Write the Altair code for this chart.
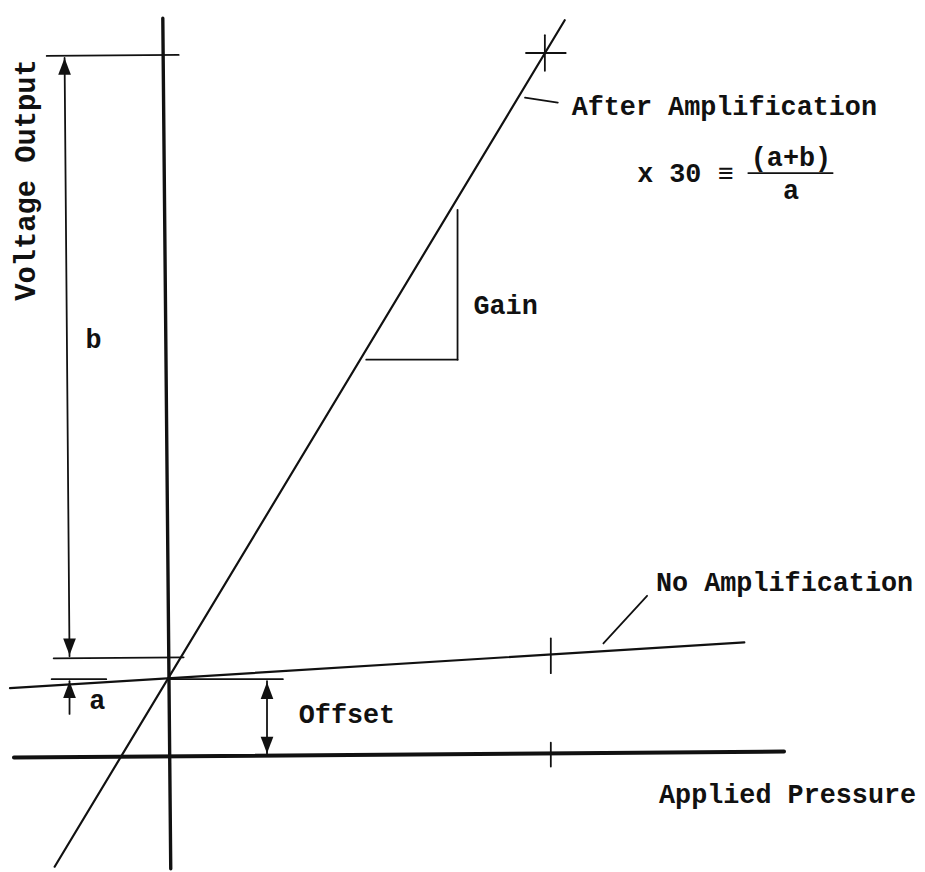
import altair as alt
import pandas as pd

# ---- diagram geometry (reference-image units: x to the right, y downward) ----
seg_name = ["v_axis", "p_axis", "after_amp", "no_amp",
            "b_top", "b_bottom", "b_arrow", "a_line", "a_arrow",
            "offset_top", "offset_arrow",
            "tick_noamp", "tick_p", "cross_h", "cross_v",
            "lead_after", "lead_noamp", "gain_v", "gain_h", "frac"]
seg_x1 = [162, 12, 53, 8, 45, 52, 63, 50, 68, 168, 267, 553, 553, 528, 547, 527, 606, 459, 367, 752]
seg_y1 = [15, 760, 870, 690, 53, 660, 55, 681, 683, 681, 683, 640, 745, 50, 32, 95, 645, 208, 359, 171]
seg_x2 = [170, 788, 567, 748, 178, 183, 68, 105, 68, 283, 267, 553, 553, 568, 547, 560, 650, 459, 459, 837]
seg_y2 = [872, 754, 17, 644, 52, 659, 658, 681, 716, 681, 757, 675, 769, 50, 68, 100, 597, 359, 359, 171]
seg_kind = ["heavy", "heavier", "main", "main", "thin", "thin", "thin", "thin", "thin",
            "thin", "thin", "thin", "thin", "thin", "thin", "thin", "thin", "thin", "thin", "thin"]

arrow_x = [63, 68, 68, 267, 267]
arrow_y = [55, 657, 683, 684, 756]
arrow_dir = ["up", "down", "up", "up", "down"]

labels = ["After Amplification", "x 30 \u2261", "(a+b)", "a", "Gain", "b",
          "No Amplification", "a", "Offset", "Applied Pressure", "Voltage Output"]
label_x = [574, 640, 795, 795, 475, 84, 659, 88, 299, 662, 33]
label_y = [112, 180, 164, 197, 313, 347, 592, 711, 725, 806, 178]
label_align = ["left", "left", "center", "center", "left", "left",
               "left", "left", "left", "left", "center"]
label_angle = [0, 0, 0, 0, 0, 0, 0, 0, 0, 0, 270]

WIDTH = {"heavier": 4.0, "heavy": 3.4, "main": 2.2, "thin": 1.8}
INK = "#111111"
FONT = "Liberation Mono"

segs = pd.DataFrame({"name": seg_name, "x1": seg_x1, "y1": seg_y1,
                     "x2": seg_x2, "y2": seg_y2, "kind": seg_kind})
segs["w"] = segs["kind"].map(WIDTH)
arrows = pd.DataFrame({"x": arrow_x, "y": arrow_y, "dir": arrow_dir})
texts = pd.DataFrame({"t": labels, "x": label_x, "y": label_y,
                      "align": label_align, "angle": label_angle})

xs = alt.Scale(domain=[8, 917], nice=False, zero=False)
ys = alt.Scale(domain=[8, 864], nice=False, zero=False, reverse=True)

lines = alt.Chart(segs).mark_rule(color=INK, strokeCap="round").encode(
    x=alt.X("x1:Q", scale=xs, axis=None),
    y=alt.Y("y1:Q", scale=ys, axis=None),
    x2="x2:Q", y2="y2:Q",
    strokeWidth=alt.StrokeWidth("w:Q", scale=None),
)

UP = "M0,-1L0.75,1L-0.75,1Z"
DOWN = "M0,1L0.75,-1L-0.75,-1Z"
up = alt.Chart(arrows).transform_filter("datum.dir == 'up'").mark_point(
    shape=UP, filled=True, color=INK, opacity=1, size=289, yOffset=8.5
).encode(x=alt.X("x:Q", scale=xs, axis=None), y=alt.Y("y:Q", scale=ys, axis=None))
down = alt.Chart(arrows).transform_filter("datum.dir == 'down'").mark_point(
    shape=DOWN, filled=True, color=INK, opacity=1, size=289, yOffset=-8.5
).encode(x=alt.X("x:Q", scale=xs, axis=None), y=alt.Y("y:Q", scale=ys, axis=None))

def text_layer(align, angle, size):
    return alt.Chart(texts).transform_filter(
        f"datum.align == '{align}' && datum.angle == {angle}"
    ).mark_text(font=FONT, fontSize=size, color=INK, align=align,
                baseline="alphabetic", angle=angle, fontWeight="bold").encode(
        x=alt.X("x:Q", scale=xs, axis=None),
        y=alt.Y("y:Q", scale=ys, axis=None),
        text="t:N",
    )

chart = alt.layer(
    lines, up, down,
    text_layer("left", 0, 27), text_layer("center", 0, 27), text_layer("center", 270, 29),
).properties(width=909, height=856, padding=0, background="white"
).configure_view(stroke=None)

chart.save("out.html", embed_options={"renderer": "svg", "actions": False})
